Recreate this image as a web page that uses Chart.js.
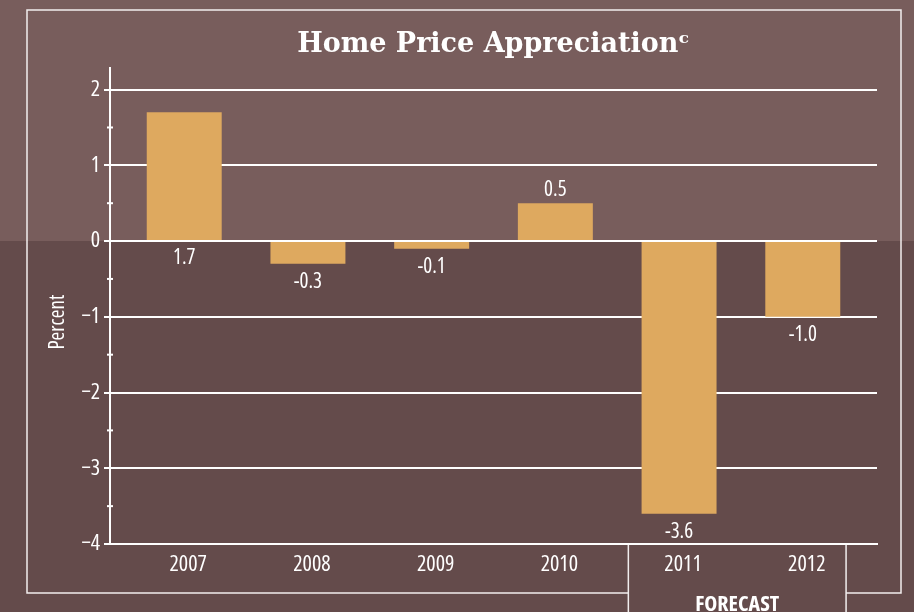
<!DOCTYPE html>
<html>
<head>
<meta charset="utf-8">
<script src="https://cdn.jsdelivr.net/npm/chart.js@4/dist/chart.umd.min.js"></script>
<style>
  html, body { margin: 0; padding: 0; background: #644b4b; }
  #homeChart { display: block; }
</style>
</head>
<body>
<canvas id="homeChart" width="914" height="612"></canvas>
<script>
const years = ["2007", "2008", "2009", "2010", "2011", "2012"];
const appreciation = [1.7, -0.3, -0.1, 0.5, -3.6, -1.0];
const valueLabels = ["1.7", "-0.3", "-0.1", "0.5", "-3.6", "-1.0"];
const yTicks = [-4, -3, -2, -1, 0, 1, 2];
const yMinorTicks = [-3.5, -2.5, -1.5, -0.5, 0.5, 1.5];

// Open Sans is a variable font here, so "condensed" gives a narrow face
const sans = "'Open Sans', 'Roboto Condensed', sans-serif";
const upperBg = "#785d5c";
const lowerBg = "#644b4b";
const barColor = "#dea95f";

// two-tone background split at the zero line
const backdrop = {
    id: "backdrop",
    beforeDraw(chart) {
        const { ctx, width, height, scales } = chart;
        const zeroY = scales.y.getPixelForValue(0);
        ctx.save();
        ctx.fillStyle = lowerBg;
        ctx.fillRect(0, 0, width, height);
        ctx.fillStyle = upperBg;
        ctx.fillRect(0, 0, width, zeroY);
        ctx.restore();
    }
};

// frame, minor ticks, value labels, axis title, forecast box
const extras = {
    id: "extras",
    afterDraw(chart) {
        const { ctx, scales, chartArea } = chart;
        const x = scales.x, y = scales.y;
        ctx.save();

        // minor ticks across the y axis
        ctx.strokeStyle = "#ffffff";
        ctx.lineWidth = 2;
        yMinorTicks.forEach(v => {
            const py = y.getPixelForValue(v);
            ctx.beginPath();
            ctx.moveTo(chartArea.left - 3, py);
            ctx.lineTo(chartArea.left + 3, py);
            ctx.stroke();
        });

        // outer frame, broken by the forecast box
        const fLeft = x.getPixelForValue(3.59);
        const fRight = x.getPixelForValue(5.35);
        ctx.strokeStyle = "#f2eeee";
        ctx.lineWidth = 1.5;
        ctx.beginPath();
        ctx.moveTo(fLeft, 593);
        ctx.lineTo(27, 593);
        ctx.lineTo(27, 10);
        ctx.lineTo(901, 10);
        ctx.lineTo(901, 593);
        ctx.lineTo(fRight, 593);
        ctx.moveTo(fLeft, chartArea.bottom + 1);
        ctx.lineTo(fLeft, 612);
        ctx.moveTo(fRight, chartArea.bottom + 1);
        ctx.lineTo(fRight, 612);
        ctx.stroke();

        ctx.fillStyle = "#ffffff";
        ctx.textAlign = "center";
        ctx.font = "bold condensed 22px " + sans;
        ctx.fillText("FORECAST", (fLeft + fRight) / 2, 611);

        // value labels
        ctx.font = "condensed 21px " + sans;
        ctx.textBaseline = "alphabetic";
        const meta = chart.getDatasetMeta(0);
        meta.data.forEach((bar, i) => {
            const v = appreciation[i];
            if (v > 0 && v < 1) {
                ctx.fillText(valueLabels[i], bar.x, Math.min(bar.y, bar.base) - 7);
            } else {
                ctx.fillText(valueLabels[i], bar.x, Math.max(bar.y, bar.base) + 24);
            }
        });

        // y axis title
        ctx.font = "condensed 21px " + sans;
        ctx.translate(58, (chartArea.top + chartArea.bottom) / 2 + 16);
        ctx.rotate(-Math.PI / 2);
        ctx.textBaseline = "middle";
        ctx.fillText("Percent", 0, 0);
        ctx.restore();
    }
};

const ctx = document.getElementById("homeChart").getContext("2d");

new Chart(ctx, {
    type: "bar",
    data: {
        datasets: [{
            label: "Home Price Appreciation",
            data: years.map((yr, i) => ({ x: i, y: appreciation[i] })),
            backgroundColor: barColor,
            borderWidth: 0,
            categoryPercentage: 1,
            barPercentage: 0.606
        }]
    },
    options: {
        responsive: false,
        animation: false,
        layout: { padding: { left: 0, right: 37, top: 0, bottom: 0 } },
        plugins: {
            legend: { display: false },
            tooltip: { enabled: false },
            title: {
                display: true,
                fullSize: false,
                text: "Home Price Appreciation\u1d9c",
                color: "#ffffff",
                font: { family: "'DejaVu Serif', 'Liberation Serif', serif", size: 27, weight: "bold" },
                padding: { top: 29, bottom: 7 }
            }
        },
        scales: {
            x: {
                type: "linear",
                offset: false,
                min: -0.6,
                max: 5.6,
                afterBuildTicks: scale => {
                    scale.ticks = years.map((yr, i) => ({ value: i }));
                },
                afterFit: scale => { scale.height = 68; },
                ticks: {
                    color: "#ffffff",
                    font: { family: sans, size: 22, weight: "condensed" },
                    padding: 8,
                    labelOffset: 4,
                    maxRotation: 0,
                    callback: v => years[v]
                },
                grid: { display: false, drawTicks: false, offset: false },
                border: { display: true, color: "#ffffff", width: 2 }
            },
            y: {
                min: -4,
                max: 2.28,
                afterBuildTicks: scale => {
                    scale.ticks = yTicks.map(v => ({ value: v }));
                },
                afterFit: scale => { scale.width = 110; },
                ticks: {
                    color: "#ffffff",
                    font: { family: sans, size: 22, weight: "condensed" },
                    padding: 4,
                    callback: v => (v < 0 ? "\u2212" + Math.abs(v) : String(v))
                },
                grid: {
                    color: "#ffffff",
                    lineWidth: 2,
                    tickLength: 6,
                    drawTicks: true
                },
                border: { display: true, color: "#ffffff", width: 2 }
            }
        }
    },
    plugins: [backdrop, extras]
});
</script>
</body>
</html>
